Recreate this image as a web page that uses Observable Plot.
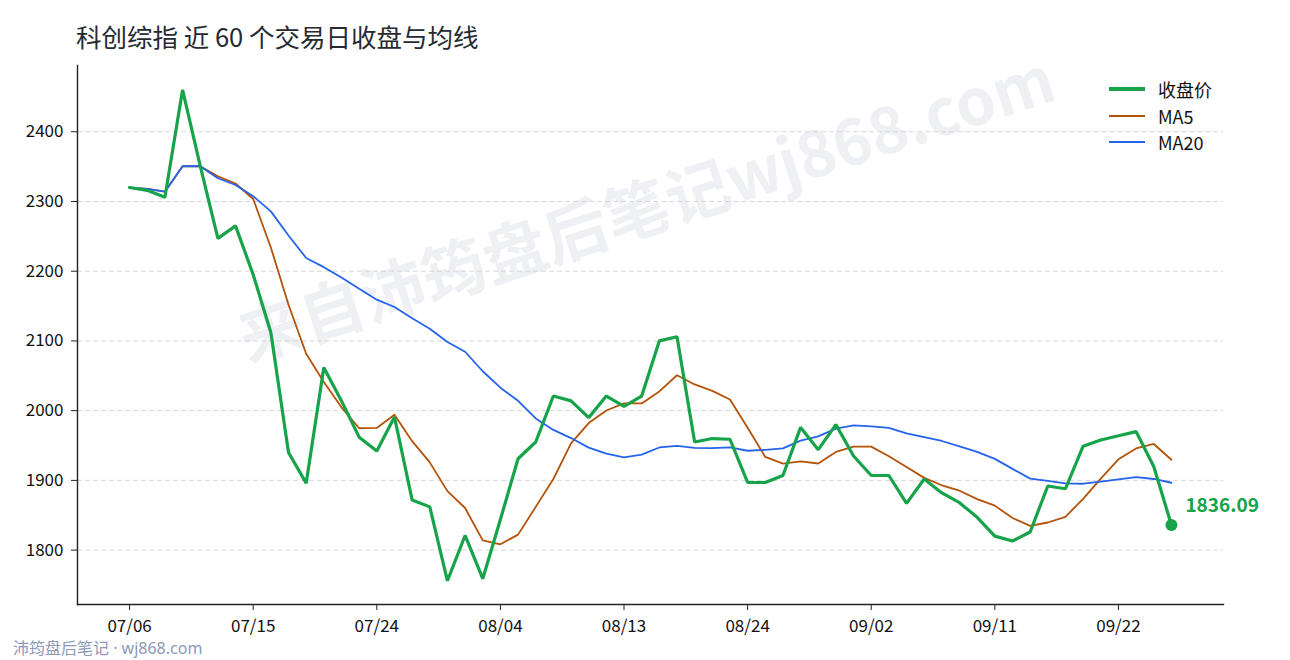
<!DOCTYPE html>
<html>
<head>
<meta charset="utf-8">
<script src="https://cdn.jsdelivr.net/npm/d3@7"></script>
<script src="https://cdn.jsdelivr.net/npm/@observablehq/plot@0.6"></script>
<style>
  html, body { margin: 0; padding: 0; background: #fff; }
  #wrap { position: relative; width: 1290px; height: 660px; background: #fff; overflow: hidden;
          font-family: "Noto Sans CJK SC", "Noto Sans", sans-serif; }
  #wm { position: absolute; left: 645px; top: 204px; transform: translate(-50%, -50%) rotate(-18deg);
        white-space: nowrap; font-size: 64px; font-weight: bold; color: #eef0f4; line-height: 1; }
  #chart { position: absolute; left: 0; top: 0; }
  #title { position: absolute; left: 76px; top: 20px; font-size: 25.5px; line-height: 32px; color: #262a31; white-space: nowrap; }
  #legend { position: absolute; left: 1109px; top: 76px; }
  .item { position: absolute; left: 0; height: 26px; width: 120px; }
  .sw { position: absolute; left: 0; width: 36px; }
  .lab { position: absolute; left: 49px; top: 0; font-size: 18px; line-height: 26px; color: #111; white-space: nowrap; }
  #caption { position: absolute; left: 13px; top: 637px; font-size: 16px; line-height: 22px; color: #8a9ab6; white-space: nowrap;
             font-family: "Noto Sans", "Noto Sans CJK SC", sans-serif; }
</style>
</head>
<body>
<div id="wrap">
  <div id="wm">来自沛筠盘后笔记wj868.com</div>
  <div id="chart"></div>
  <div id="title"></div>
  <div id="legend"></div>
  <div id="caption">沛筠盘后笔记 · wj868.com</div>
</div>
<script>
const titleText = "科创综指 近 60 个交易日收盘与均线";

const dates = ["07/06","07/07","07/08","07/09","07/10","07/13","07/14","07/15","07/16","07/17",
  "07/20","07/21","07/22","07/23","07/24","07/27","07/28","07/29","07/30","07/31",
  "08/03","08/04","08/05","08/06","08/07","08/10","08/11","08/12","08/13","08/14",
  "08/17","08/18","08/19","08/20","08/21","08/24","08/25","08/26","08/27","08/28",
  "08/31","09/01","09/02","09/03","09/04","09/07","09/08","09/09","09/10","09/11",
  "09/14","09/15","09/16","09/17","09/18","09/21","09/22","09/23","09/24","09/25"];

const close = [2320,2316,2306,2460,2351,2247,2265,2195,2112,1940,
  1896,2062,2014,1962,1942,1991,1872,1862,1756,1821,
  1759,1844,1931,1955,2021,2014,1990,2021,2006,2021,
  2100,2106,1955,1960,1959,1897,1897,1907,1976,1944,
  1980,1935,1907,1907,1867,1902,1882,1868,1847,1820,
  1813,1826,1892,1888,1949,1958,1964,1970,1920,1836.09];

const ma5 = [2320,2318,2314,2350.5,2350.6,2336,2325.8,2303.6,2234,2151.8,
  2081.6,2041,2004.8,1974.8,1975.2,1994.2,1956.2,1925.8,1884.6,1860.4,
  1814,1808.4,1822.2,1862,1902,1953,1982.2,2000.2,2010.4,2010.4,
  2027.6,2050.8,2037.6,2028.4,2016,1975.4,1933.6,1924,1927.2,1924.2,
  1940.8,1948.4,1948.4,1934.6,1919.2,1903.6,1893,1885.2,1873.2,1863.8,
  1846,1834.8,1839.6,1847.8,1873.6,1902.6,1930.2,1945.8,1952.2,1929.6];

const ma20 = [2320,2318,2314,2350.5,2350.6,2333.3,2323.6,2307.5,2285.8,2251.2,
  2218.9,2205.8,2191.1,2174.7,2159.2,2148.7,2132.4,2117.4,2098.4,2084.5,
  2056.5,2032.9,2014.1,1988.9,1972.4,1960.7,1947,1938.3,1933,1937,
  1947.2,1949.4,1946.5,1946.4,1947.2,1942.5,1943.8,1946,1957,1963.2,
  1974.2,1978.8,1977.6,1975.2,1967.5,1961.9,1956.5,1948.8,1940.9,1930.8,
  1916.5,1902.5,1899.3,1895.7,1895.2,1898.3,1901.6,1904.8,1902,1896.6];

const xTicks = ["07/06","07/15","07/24","08/04","08/13","08/24","09/02","09/11","09/22"];
const yTicks = [1800,1900,2000,2100,2200,2300,2400];

const seriesNames = ["收盘价","MA5","MA20"];
const seriesColors = ["#16a34a","#b45309","#2563eb"];
const seriesWidths = [3.2,1.8,1.8];

const rows = dates.map((d, i) => ({date: d, close: close[i], ma5: ma5[i], ma20: ma20[i]}));
const last = rows.slice(-1);

document.getElementById("title").textContent = titleText;

const chart = Plot.plot({
  width: 1290,
  height: 660,
  marginLeft: 77,
  marginRight: 67,
  marginTop: 65,
  marginBottom: 56,
  style: {background: "transparent", fontFamily: "'Noto Sans CJK SC', 'Noto Sans', sans-serif", fontSize: "17px", color: "#111", overflow: "visible"},
  x: {type: "point", domain: dates, padding: 2.95},
  y: {domain: [1722, 2495]},
  marks: [
    Plot.gridY(yTicks, {stroke: "#d4d4d4", strokeOpacity: 1, strokeWidth: 0.9, strokeDasharray: "5,3"}),
    Plot.frame({anchor: "left", stroke: "#222", strokeWidth: 1.4}),
    Plot.frame({anchor: "bottom", stroke: "#222", strokeWidth: 1.4}),
    Plot.axisY({ticks: yTicks, tickFormat: d => String(d), tickSize: 6, tickPadding: 8, label: null, stroke: "#222", fontSize: 17}),
    Plot.axisX({ticks: xTicks, tickSize: 6, tickPadding: 9, label: null, stroke: "#222", fontSize: 17}),
    Plot.line(rows, {x: "date", y: "ma5", stroke: seriesColors[1], strokeWidth: seriesWidths[1]}),
    Plot.line(rows, {x: "date", y: "ma20", stroke: seriesColors[2], strokeWidth: seriesWidths[2]}),
    Plot.line(rows, {x: "date", y: "close", stroke: seriesColors[0], strokeWidth: seriesWidths[0], strokeLinejoin: "miter"}),
    Plot.dot(last, {x: "date", y: "close", r: 6, fill: seriesColors[0]}),
    Plot.text(last, {x: "date", y: "close", text: d => d.close.toFixed(2), dx: 14, dy: -19,
      textAnchor: "start", lineAnchor: "middle", fontWeight: "bold", fontSize: 19, fill: seriesColors[0]})
  ]
});
document.getElementById("chart").appendChild(chart);

const legend = document.getElementById("legend");
seriesNames.forEach((name, i) => {
  const item = document.createElement("div");
  item.className = "item";
  item.style.top = (i * 26.5) + "px";
  const sw = document.createElement("div");
  sw.className = "sw";
  sw.style.background = seriesColors[i];
  sw.style.height = (i === 0 ? 3.5 : 2) + "px";
  sw.style.top = (13 - (i === 0 ? 1.75 : 1)) + "px";
  const lab = document.createElement("div");
  lab.className = "lab";
  lab.textContent = name;
  item.appendChild(sw);
  item.appendChild(lab);
  legend.appendChild(item);
});
</script>
</body>
</html>
